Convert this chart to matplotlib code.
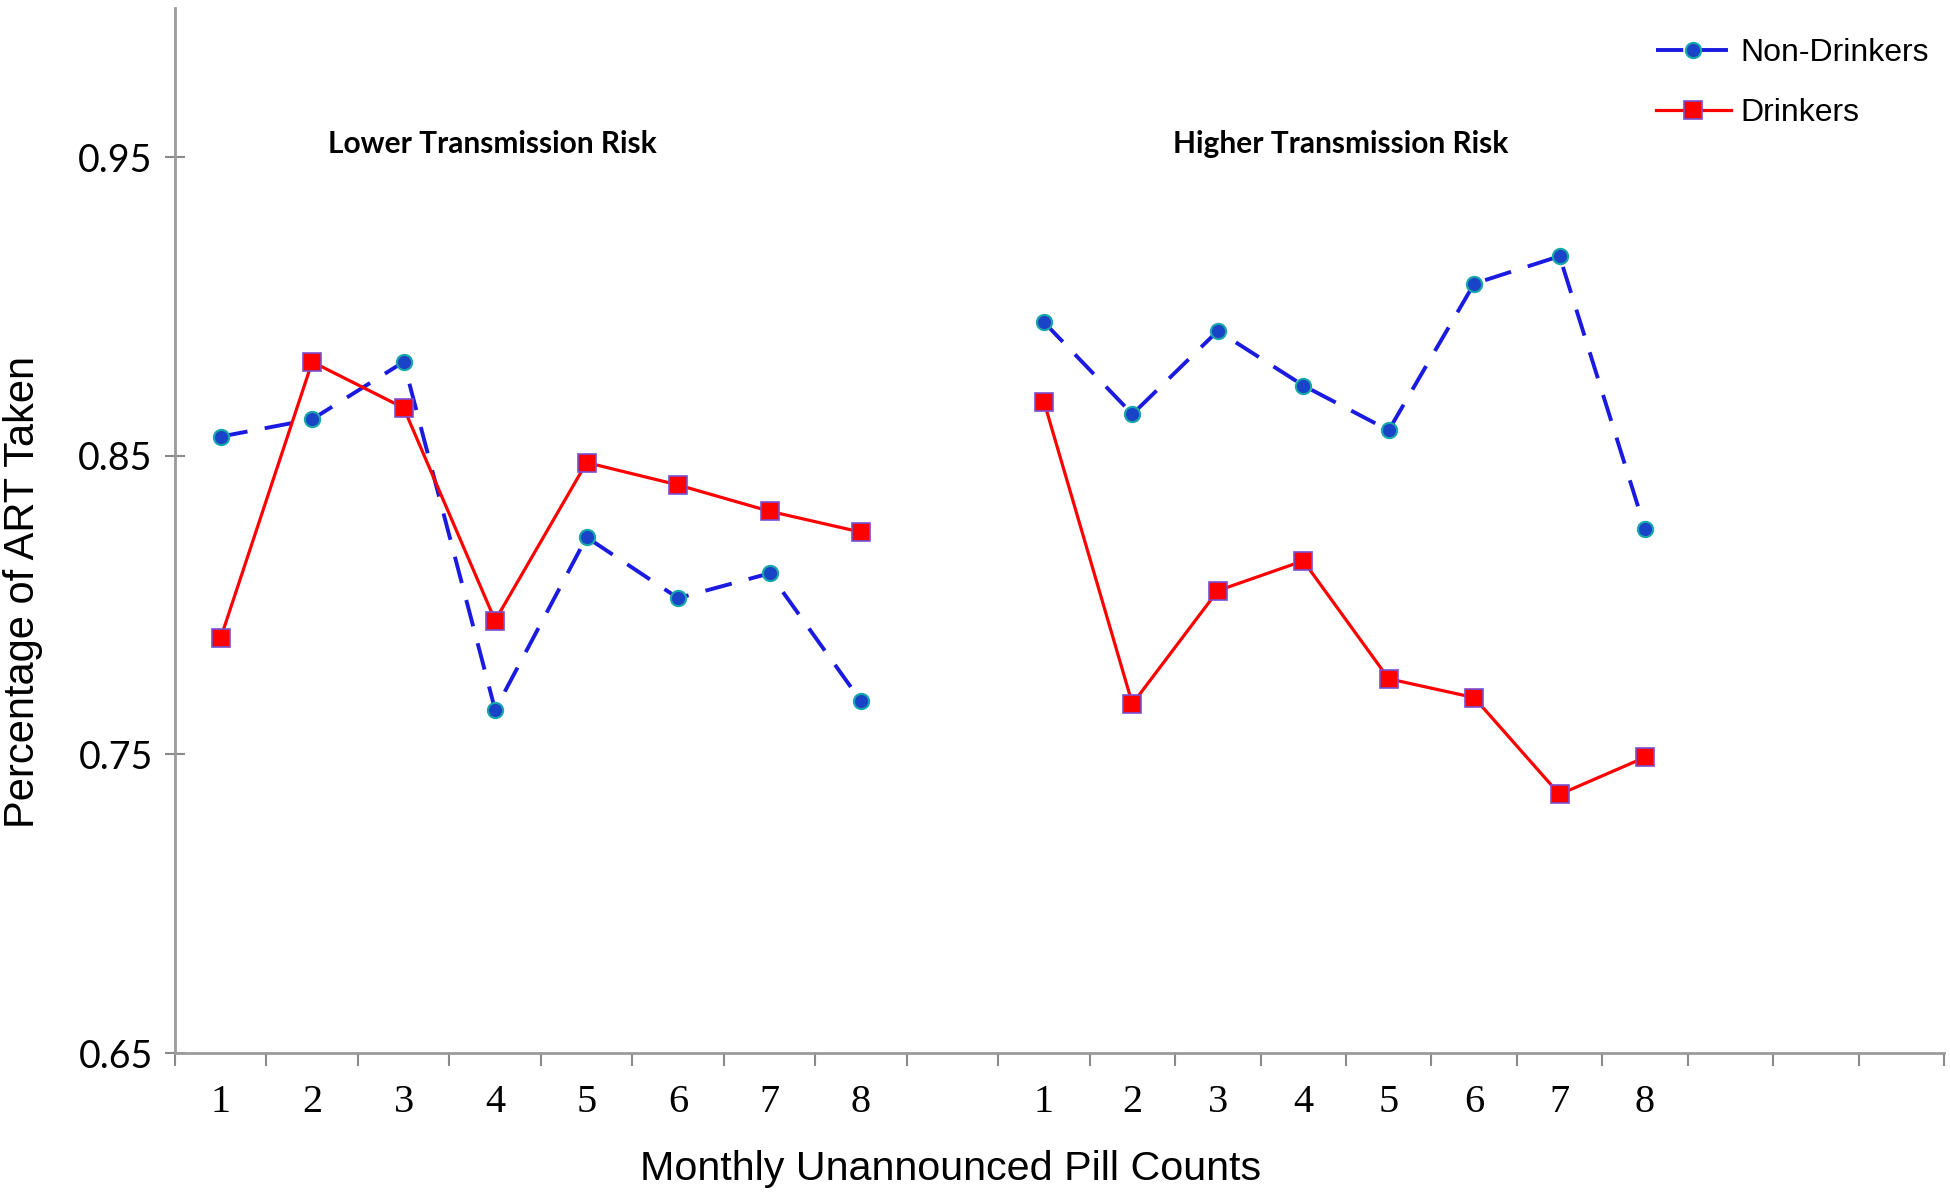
import numpy as np
import matplotlib
matplotlib.use("Agg")
import matplotlib.pyplot as plt

# data
pill_counts = ["1", "2", "3", "4", "5", "6", "7", "8"]
groups = ["Lower Transmission Risk", "Higher Transmission Risk"]

low_non_drinkers = [0.8564, 0.8622, 0.8814, 0.7649, 0.8227, 0.8023, 0.8106, 0.7678]
low_drinkers = [0.7890, 0.8814, 0.8660, 0.7948, 0.8477, 0.8402, 0.8314, 0.8244]
high_non_drinkers = [0.8947, 0.8639, 0.8918, 0.8735, 0.8585, 0.9076, 0.9168, 0.8256]
high_drinkers = [0.8681, 0.7669, 0.8048, 0.8148, 0.7753, 0.7690, 0.7366, 0.7490]

y_ticks = [0.65, 0.75, 0.85, 0.95]

# category boundaries: the two panels were pasted side by side with slightly
# different category widths
bounds = np.r_[np.arange(0, 11), 10 + 0.934 * np.arange(1, 11)]
centers = (bounds[:-1] + bounds[1:]) / 2
x_low = centers[0:8]
x_high = centers[9:17]

fig = plt.figure(figsize=(19.5, 11.97), dpi=100)
ax = fig.add_axes([175 / 1950, 1 - 1053 / 1197, (1944 - 175) / 1950, (1053 - 7.7) / 1197])

nd_style = dict(color="#1a1ae0", lw=2.8, linestyle=(0, (7, 4.5)), marker="o", markersize=11,
                markerfacecolor="#1a44c8", markeredgecolor="#18a8a8", markeredgewidth=1.5)
dr_style = dict(color="#ff0000", lw=2.3, linestyle="-", marker="s", markersize=12.5,
                markerfacecolor="#ff0000", markeredgecolor="#7a4fd0", markeredgewidth=1.2)

ax.plot(x_low, low_non_drinkers, label="Non-Drinkers", **nd_style)
ax.plot(x_low, low_drinkers, label="Drinkers", **dr_style)
ax.plot(x_high, high_non_drinkers, **nd_style)
ax.plot(x_high, high_drinkers, **dr_style)

ax.set_xlim(bounds[0], bounds[-1])
ax.set_ylim(0.65, 1.0)

for s in ["top", "right"]:
    ax.spines[s].set_visible(False)
for s in ["left", "bottom"]:
    ax.spines[s].set_color("#9a9a9a")
    ax.spines[s].set_linewidth(2.0)

ax.set_yticks(y_ticks)
ax.set_yticklabels([f"{v:.2f}" for v in y_ticks], fontfamily="Lato", fontsize=27)
ax.tick_params(axis="y", direction="inout", length=14, width=1.5, color="#8a8a8a", pad=9)

ax.set_xticks(bounds)
ax.set_xticklabels([])
ax.tick_params(axis="x", which="major", direction="out", length=9, width=1.5, color="#8a8a8a")
ax.set_xticks(np.r_[x_low, x_high], minor=True)
ax.set_xticklabels(pill_counts + pill_counts, minor=True, fontfamily="Liberation Serif", fontsize=29)
ax.tick_params(axis="x", which="minor", length=0, pad=22)

ax.set_xlabel("Monthly Unannounced Pill Counts", fontfamily="Liberation Sans", fontsize=29.7)
ax.xaxis.set_label_coords(0.4387, -0.093)
ax.set_ylabel("Percentage of ART Taken", fontfamily="Liberation Sans", fontsize=30)
ax.yaxis.set_label_coords(-0.0746, 0.441)

ax.text(np.mean(x_low) - 0.525, 0.9543, groups[0], ha="center", va="center",
        fontfamily="Lato", fontsize=21.5, fontweight="bold")
ax.text(np.mean(x_high) - 0.05, 0.9543, groups[1], ha="center", va="center",
        fontfamily="Lato", fontsize=21.5, fontweight="bold")

leg = ax.legend(loc="upper right", bbox_to_anchor=(1945 / 1950, 1 - 22 / 1197),
                bbox_transform=fig.transFigure, frameon=False,
                prop={"family": "Liberation Sans", "size": 23},
                handlelength=2.35, handletextpad=0.3, labelspacing=0.95, borderpad=0)

fig.savefig("out.png", dpi=100)
